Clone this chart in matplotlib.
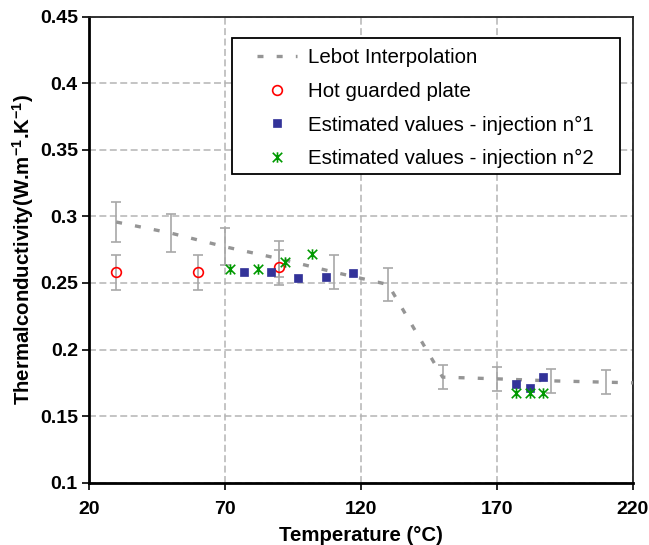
import matplotlib
matplotlib.use("Agg")
import matplotlib.pyplot as plt
from matplotlib.path import Path
from matplotlib.patches import Rectangle

plt.rcParams["font.family"] = ["Liberation Sans", "DejaVu Sans"]
plt.rcParams["mathtext.fontset"] = "custom"
plt.rcParams["mathtext.rm"] = "Liberation Sans"
plt.rcParams["mathtext.bf"] = "Liberation Sans:bold"
plt.rcParams["lines.scale_dashes"] = False

# Lebot interpolation (temperature in °C, conductivity in W/m/K)
lebot_T = [30, 50, 70, 90, 110, 130, 150, 170, 190, 210, 220]
lebot_k = [0.2958, 0.2875, 0.2772, 0.2682, 0.2582, 0.2488, 0.1793, 0.1780, 0.1765, 0.1755, 0.1750]
lebot_err_T = [30, 50, 70, 90, 110, 130, 150, 170, 190, 210]
lebot_err_k = [0.2958, 0.2875, 0.2772, 0.2682, 0.2582, 0.2488, 0.1793, 0.1780, 0.1765, 0.1755]
lebot_err = [0.0148, 0.0144, 0.0139, 0.0134, 0.0129, 0.0124, 0.0090, 0.0089, 0.0088, 0.0088]

# Hot guarded plate measurements
plate_T = [30, 60, 90]
plate_k = [0.258, 0.258, 0.2617]
plate_err = [0.0129, 0.0129, 0.0131]

# Estimated values, injection 1
inj1_T = [77, 87, 97, 107, 117, 177, 182, 187]
inj1_k = [0.258, 0.258, 0.2534, 0.2547, 0.2572, 0.1738, 0.1713, 0.1791]

# Estimated values, injection 2
inj2_T = [72, 82, 92, 102, 177, 182, 187]
inj2_k = [0.2602, 0.2602, 0.2655, 0.2715, 0.1670, 0.1670, 0.1670]

x_ticks = [20, 70, 120, 170, 220]
y_ticks = [0.1, 0.15, 0.2, 0.25, 0.3, 0.35, 0.4, 0.45]
y_tick_labels = ["0.1", "0.15", "0.2", "0.25", "0.3", "0.35", "0.4", "0.45"]

# asterisk marker: an X crossed by a vertical bar
star = Path(
    [(-1, -1), (1, 1), (-1, 1), (1, -1), (0, -1.1), (0, 1.1)],
    [Path.MOVETO, Path.LINETO, Path.MOVETO, Path.LINETO, Path.MOVETO, Path.LINETO],
)

fig = plt.figure(figsize=(6.49, 5.45), dpi=100)
ax = fig.add_axes([0.1371, 0.1143, 0.8382, 0.8551])

err_color = "#A8A8A8"
ax.errorbar(lebot_err_T, lebot_err_k, yerr=lebot_err, fmt="none", ecolor=err_color,
            elinewidth=1.2, capsize=3.3, capthick=1.2, zorder=2)
ax.errorbar(plate_T, plate_k, yerr=plate_err, fmt="none", ecolor=err_color,
            elinewidth=1.2, capsize=3.3, capthick=1.2, zorder=2)

ax.plot(lebot_T, lebot_k, color="#959595", lw=2.4, dashes=(4.3, 9.5),
        label="Lebot Interpolation", zorder=3)
ax.plot(plate_T, plate_k, ls="none", marker="o", ms=7, mfc="none", mec="#FF0000",
        mew=1.2, label="Hot guarded plate", zorder=4)
ax.plot(inj1_T, inj1_k, ls="none", marker="s", ms=5.8, mfc="#333399", mec="#333399",
        mew=0.5, label="Estimated values - injection n°1", zorder=4)
ax.plot(inj2_T, inj2_k, ls="none", marker=star, ms=7.5, mfc="none", mec="#009900",
        mew=1.2, label="Estimated values - injection n°2", zorder=4)

ax.set_xlim(20, 220)
ax.set_ylim(0.1, 0.45)
ax.set_xticks(x_ticks)
ax.set_yticks(y_ticks)
ax.set_yticklabels(y_tick_labels)
ax.tick_params(axis="both", direction="out", length=5, width=1.2, labelsize=14)
ax.tick_params(axis="x", pad=8)
ax.tick_params(axis="y", pad=3)
for lab in ax.get_xticklabels() + ax.get_yticklabels():
    lab.set_fontweight("bold")

ax.grid(True, color="#B4B4B4", lw=1.1, ls=(0, (5, 2.5)))
ax.set_axisbelow(True)

for side in ("left", "bottom"):
    ax.spines[side].set_linewidth(2.0)
    ax.spines[side].set_color("black")
for side in ("top", "right"):
    ax.spines[side].set_linewidth(1.3)
    ax.spines[side].set_color("#222222")

ax.set_xlabel("Temperature (°C)", fontsize=14.7, fontweight="bold", labelpad=6)
ax.set_ylabel(r"Thermalconductivity(W.m$^{\mathbf{-1}}$.K$^{\mathbf{-1}}$)",
              fontsize=14.7, fontweight="bold", labelpad=3)

# legend frame drawn as a separate box so the handles can sit further in
frame = Rectangle((0.2623, 0.6624), 0.7137, 0.2926, transform=ax.transAxes,
                  facecolor="white", edgecolor="black", lw=1.3, zorder=5)
ax.add_patch(frame)
leg = ax.legend(loc="upper left", bbox_to_anchor=(0.308, 0.933), frameon=False,
                fontsize=14.8, handlelength=1.95, handletextpad=0.55,
                labelspacing=0.72, borderpad=0, borderaxespad=0)
leg.set_zorder(6)

fig.savefig("out.png", dpi=100)
